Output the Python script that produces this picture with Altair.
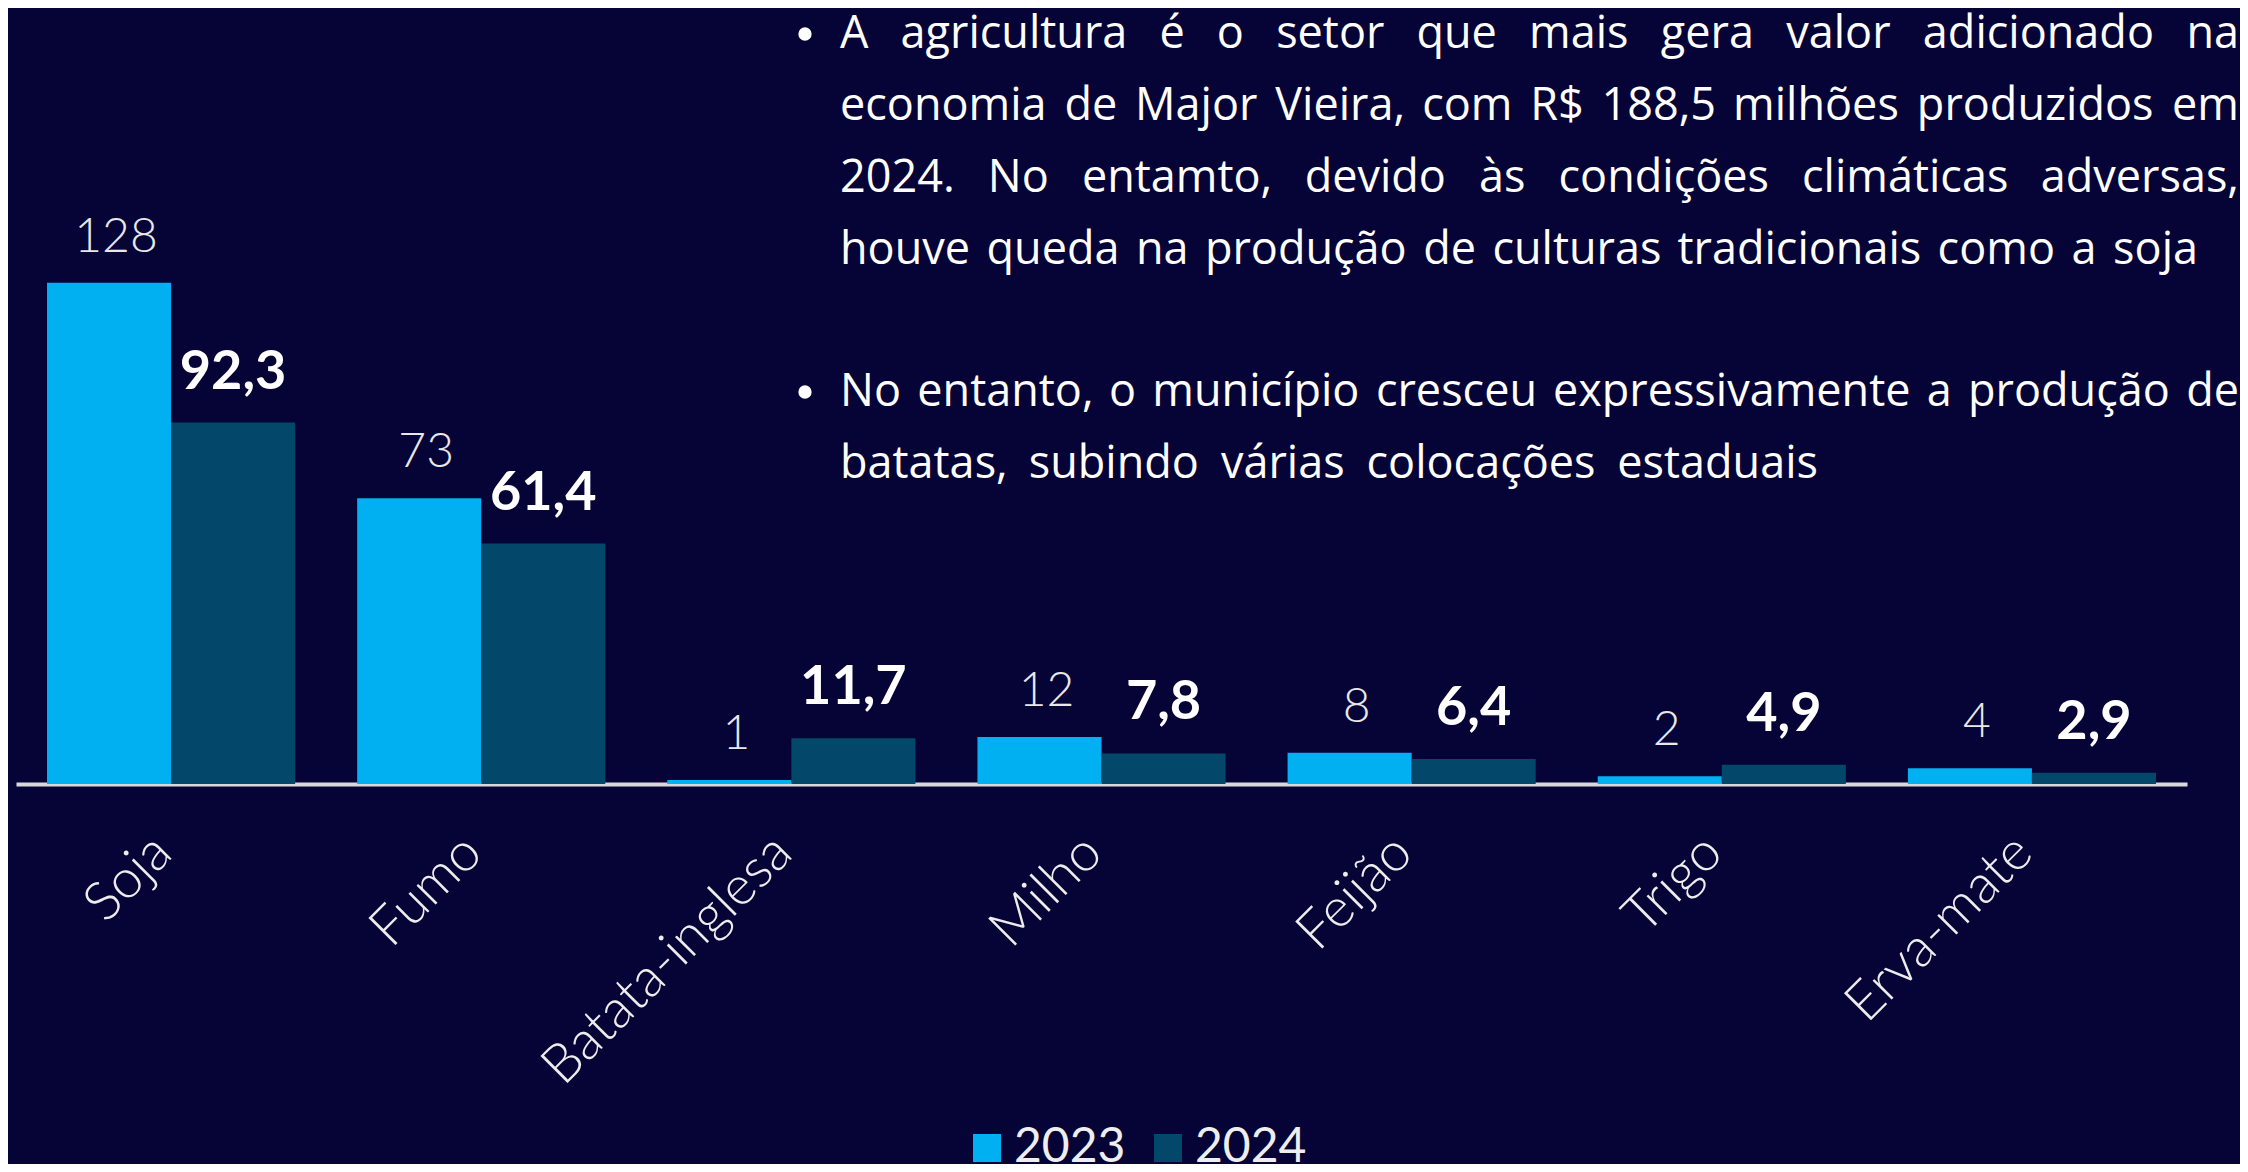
import unicodedata
import altair as alt
import pandas as pd

# ---------------- data ----------------
categories = ["Soja", "Fumo", "Batata-inglesa", "Milho", "Feijão", "Trigo", "Erva-mate"]
years = ["2023", "2024"]
values_2023 = [128, 73, 1, 12, 8, 2, 4]
values_2024 = [92.3, 61.4, 11.7, 7.8, 6.4, 4.9, 2.9]

paragraph_1 = [
    "A agricultura é o setor que mais gera valor adicionado na",
    "economia de Major Vieira, com R$ 188,5 milhões produzidos em",
    "2024. No entamto, devido às condições climáticas adversas,",
    "houve queda na produção de culturas tradicionais como a soja",
]
paragraph_2 = [
    "No entanto, o município cresceu expressivamente a produção de",
    "batatas, subindo várias colocações estaduais",
]

# ---------------- colours / layout ----------------
BG = "#060337"
C2023 = "#00B0F0"
C2024 = "#03486A"
W, H = 2171, 776
YMAX = 198.2

rows = []
for c, v in zip(categories, values_2023):
    rows.append({"cultura": c, "ano": "2023", "valor": v, "rotulo": f"{v:g}"})
for c, v in zip(categories, values_2024):
    rows.append({"cultura": c, "ano": "2024", "valor": v, "rotulo": f"{v:.1f}".replace(".", ",")})
df = pd.DataFrame(rows)

# ---------------- justified paragraph layout ----------------
OPEN_SANS_ADV = {
    " ": 532, "a": 1139, "b": 1255, "c": 975, "d": 1255, "e": 1149, "f": 694, "g": 1122,
    "h": 1257, "i": 518, "j": 518, "k": 1075, "l": 518, "m": 1905, "n": 1257, "o": 1237,
    "p": 1255, "q": 1255, "r": 836, "s": 977, "t": 723, "u": 1257, "v": 1026, "w": 1593,
    "x": 1073, "y": 1028, "z": 977, "A": 1296, "M": 1849, "N": 1544, "R": 1266, "V": 1219,
    "0": 1171, "1": 1171, "2": 1171, "3": 1171, "4": 1171, "5": 1171, "6": 1171, "7": 1171,
    "8": 1171, "9": 1171, ",": 502, ".": 545, "$": 1171, "-": 659,
}
FS = 45


def word_w(s):
    tot = 0
    for ch in s:
        base = unicodedata.normalize("NFD", ch)[0]
        tot += OPEN_SANS_ADV.get(base, 1139)
    return tot / 2048 * FS


LEFT = 824
line_specs = [
    (paragraph_1[0], 40, 2223),
    (paragraph_1[1], 112, 2223),
    (paragraph_1[2], 184, 2223),
    (paragraph_1[3], 256, 2182),
    (paragraph_2[0], 398, 2223),
    (paragraph_2[1], 470, 1802),
]
left_rows, right_rows = [], []
for text, yy, right in line_specs:
    words = text.split(" ")
    widths = [word_w(w) for w in words]
    gap = (right - LEFT - sum(widths)) / (len(words) - 1)
    xx = LEFT
    for i, (w, ww) in enumerate(zip(words, widths)):
        if i == len(words) - 1:
            right_rows.append({"palavra": w, "px": right, "py": yy})
        else:
            left_rows.append({"palavra": w, "px": xx, "py": yy})
        xx += ww + gap
words_left_df = pd.DataFrame(left_rows)
words_right_df = pd.DataFrame(right_rows)

# ---------------- chart ----------------
x_enc = alt.X(
    "cultura:N",
    sort=categories,
    title=None,
    scale=alt.Scale(paddingInner=0.2, paddingOuter=0.1),
    axis=alt.Axis(
        labelAngle=-45, labelAlign="right", labelBaseline="middle",
        labelFont="Lato", labelFontSize=54, labelFontWeight=300, labelColor="#EDEDED",
        labelPadding=60, labelOffset=-8, ticks=False, tickSize=0,
        domainColor="#D9D9D9", domainWidth=4,
        grid=False, labelOverlap=False, labelLimit=0,
    ),
)
xo_enc = alt.XOffset("ano:N", sort=years, scale=alt.Scale(domain=years, paddingInner=0, paddingOuter=0))
y_enc = alt.Y("valor:Q", scale=alt.Scale(domain=[0, YMAX], nice=False, zero=True), axis=None)

base = alt.Chart(df).encode(x=x_enc, xOffset=xo_enc, y=y_enc)

bars = base.mark_bar().encode(
    color=alt.Color(
        "ano:N",
        scale=alt.Scale(domain=years, range=[C2023, C2024]),
        legend=alt.Legend(
            title=None, orient="none", legendX=947, legendY=1116, direction="horizontal",
            symbolType="square", symbolSize=784, symbolStrokeWidth=0,
            labelFont="Lato", labelFontSize=48, labelColor="#EEEEEE",
            labelOffset=3, columnPadding=18,
        ),
    )
)

lab23 = base.transform_filter(alt.datum.ano == "2023").mark_text(
    font="Lato", fontSize=48, fontWeight=300, color="#E8E8E8",
    baseline="alphabetic", dy=-31, dx=7,
).encode(text="rotulo:N")

lab24 = base.transform_filter(alt.datum.ano == "2024").mark_text(
    font="Lato", fontSize=54, fontWeight="bold", color="#FFFFFF",
    baseline="alphabetic", dy=-34,
).encode(text="rotulo:N")

words_left = alt.Chart(words_left_df).mark_text(
    font="Open Sans", fontSize=FS, color="#FFFFFF", align="left", baseline="alphabetic"
).encode(
    x=alt.X("px:Q", scale=None, axis=None),
    y=alt.Y("py:Q", scale=None, axis=None),
    text="palavra:N",
)
words_right = alt.Chart(words_right_df).mark_text(
    font="Open Sans", fontSize=FS, color="#FFFFFF", align="right", baseline="alphabetic"
).encode(
    x=alt.X("px:Q", scale=None, axis=None),
    y=alt.Y("py:Q", scale=None, axis=None),
    text="palavra:N",
)

dot = pd.DataFrame({"k": [0]})
bullet1 = alt.Chart(dot).mark_circle(color="#FFFFFF", opacity=1, size=177).encode(
    x=alt.value(789), y=alt.value(26)
)
bullet2 = alt.Chart(dot).mark_circle(color="#FFFFFF", opacity=1, size=177).encode(
    x=alt.value(789), y=alt.value(384)
)

chart = alt.layer(bars, lab23, lab24, words_left, words_right, bullet1, bullet2).properties(
    width=W,
    height=H,
    padding={"left": 8, "top": 0, "right": 53, "bottom": 380},
    autosize=alt.AutoSizeParams(type="none"),
).configure(background=BG).configure_view(stroke=None)

chart.save("out.html", embed_options={"renderer": "svg", "actions": False})
